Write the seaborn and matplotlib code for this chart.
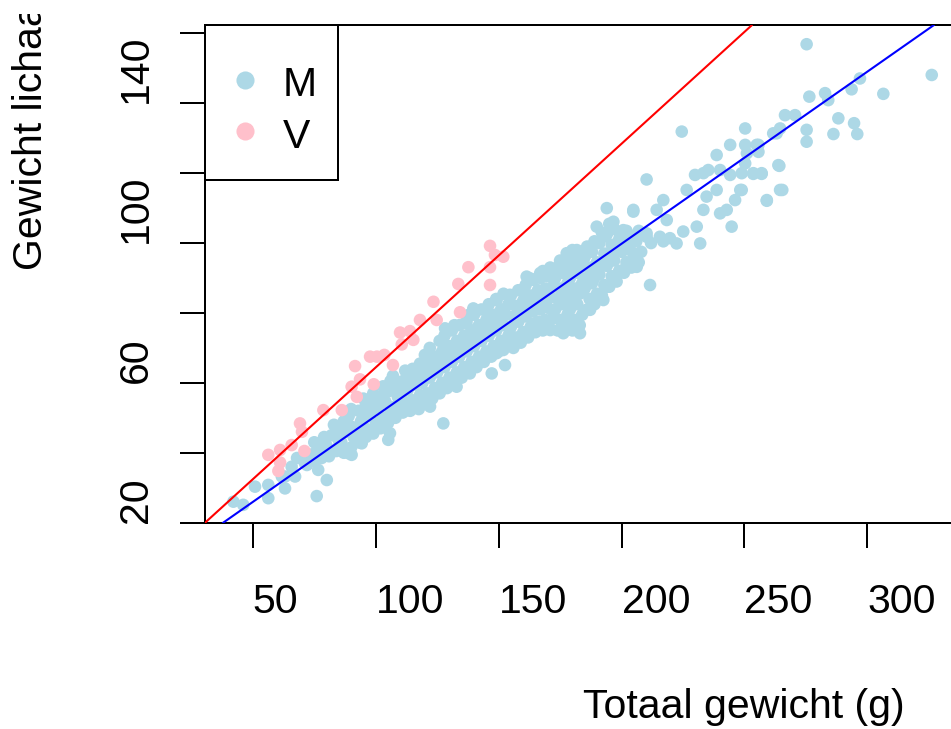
import matplotlib
matplotlib.use("Agg")
import matplotlib.pyplot as plt
from matplotlib.patches import Rectangle
from matplotlib.transforms import Bbox
import pandas as pd
import seaborn as sns

# ---------------- data ----------------
m_x = [
    72, 73, 75, 76, 75,
    78, 77, 79, 81, 80, 82,
    84, 85, 84, 83, 87, 86, 88, 87,
    90, 91, 90, 89, 90, 93, 92, 94, 93,
    96, 95, 97, 96, 95, 99, 100, 98, 99, 99,
    102, 103, 101, 102, 103, 105, 106, 104, 105, 106,
    108, 107, 109, 108, 107, 111, 112, 110, 111, 112,
    114, 115, 113, 114, 115, 117, 118, 116, 117, 118,
    120, 121, 119, 120, 121, 120, 123, 124, 122, 123, 124, 122,
    126, 127, 125, 126, 127, 126, 129, 130, 128, 129, 130, 128,
    132, 133, 131, 132, 133, 131, 132, 135, 136, 134, 135, 136, 134,
    138, 139, 137, 138, 139, 137, 138, 141, 142, 140, 141, 142, 140,
    144, 145, 143, 144, 145, 143, 147, 148, 146, 147, 148, 146,
    150, 151, 149, 150, 151, 149, 153, 154, 152, 153, 154, 152,
    156, 157, 155, 156, 157, 155, 159, 160, 158, 159, 160, 158,
    162, 163, 161, 162, 163, 161, 165, 166, 164, 165, 166, 164,
    168, 169, 167, 168, 169, 167, 168, 171, 172, 170, 171, 172, 170, 171,
    174, 175, 173, 174, 175, 173, 174, 175, 177, 178, 176, 177, 178, 176, 177,
    180, 181, 179, 180, 181, 179, 180, 181, 180, 183, 184, 182, 183, 184, 182, 183, 184,
    186, 187, 185, 186, 187, 185, 186, 189, 190, 188, 189, 190, 188, 189,
    192, 193, 191, 192, 193, 191, 192, 195, 196, 194, 195, 196, 194, 195,
    198, 199, 197, 198, 199, 197, 201, 202, 200, 201, 202, 204, 205, 203, 204, 207, 208, 206, 207,
    42.1, 46.1, 50.9, 56.3, 56.3, 63.1, 63.1, 67.2, 69.9, 76.0,
    80.1, 76.6, 65.8, 71.2, 61.8, 68.0, 90.2, 88.8, 105.1, 105.8,
    97.7, 94.3,
    127.5, 132.9, 138.3, 147.2, 152.6, 149.2, 154.6, 122.1, 112.6, 108.5,
    128.2, 139.7, 145.2, 149.2, 154.6, 160.0, 161.4, 143.6, 136.9, 117.5,
    162.8, 166.9, 171.0, 176.3, 177.7, 181.8, 187.2, 189.9, 194.0, 196.7,
    192.6, 200.7, 204.8, 206.2, 210.2, 206.2, 211.6, 192.6, 194.0, 187.2,
    183.1, 176.3, 171.0, 164.2, 151.9, 147.8, 203.5, 200.7, 188.5, 184.5,
    199.4, 210.2, 212.0, 217.0,
    224.5, 210.2, 204.8, 217.0, 214.3, 218.4, 215.6, 219.7, 222.4, 225.1,
    226.5, 229.9, 233.3, 235.3, 234.6, 233.3, 230.6, 238.7, 240.1, 238.7,
    240.1, 242.8, 244.2, 244.2, 248.3, 246.2, 244.8, 232.0, 250.3, 250.3,
    251.0, 253.6, 257.0, 255.0, 263.1, 263.8, 264.5, 259.1,
    275.3, 326.2, 306.5, 297.0, 293.6, 282.8, 284.1, 276.4, 266.5, 270.6,
    264.5, 261.7, 255.7, 255.7, 250.3, 248.9, 253.6, 257.0, 264.2, 265.4,
    259.1, 248.9, 275.3, 275.3, 288.2, 286.2, 294.6, 295.9,
]
m_y = [
    36.5, 39.5, 37.5, 40.5, 43,
    38.5, 41.5, 44.5, 39, 42, 45,
    40.5, 43.5, 46.5, 48, 40, 43, 46, 49,
    41.5, 44.5, 47.5, 50.5, 52.5, 43, 46, 49, 52,
    44.5, 47.5, 50.5, 53.5, 55.5, 45.5, 48.5, 51.5, 54.5, 57,
    47, 50, 53, 56, 59, 48.5, 51.5, 54.5, 57.5, 60.5,
    50, 53, 56, 59, 62, 51.5, 54.5, 57.5, 60.5, 63.5,
    52, 55, 58, 61, 64, 53.5, 56.5, 59.5, 62.5, 65.5,
    54, 57, 60, 63, 66, 68, 55.5, 58.5, 61.5, 64.5, 67.5, 70,
    57, 60, 63, 66, 69, 72, 58.5, 61.5, 64.5, 67.5, 70.5, 73.5,
    60, 63, 66, 69, 72, 75, 76.5, 61.5, 64.5, 67.5, 70.5, 73.5, 76.5,
    63, 66, 69, 72, 75, 78, 79.5, 64.5, 67.5, 70.5, 73.5, 76.5, 79.5,
    66, 69, 72, 75, 78, 81, 67.5, 70.5, 73.5, 76.5, 79.5, 82.5,
    69, 72, 75, 78, 81, 84, 70.5, 73.5, 76.5, 79.5, 82.5, 85.5,
    70, 73, 76, 79, 82, 85, 71.5, 74.5, 77.5, 80.5, 83.5, 86.5,
    73, 76, 79, 82, 85, 88, 74.5, 77.5, 80.5, 83.5, 86.5, 89.5,
    75, 78, 81, 84, 87, 90, 92, 75.5, 78.5, 81.5, 84.5, 87.5, 90.5, 93,
    75, 78, 81, 84, 87, 90, 93, 95, 76.5, 79.5, 82.5, 85.5, 88.5, 91.5, 94.5,
    75, 78, 81, 84, 87, 90, 93, 96, 98, 76.5, 79.5, 82.5, 85.5, 88.5, 91.5, 94.5, 97.5,
    81, 84, 87, 90, 93, 96, 99, 82.5, 85.5, 88.5, 91.5, 94.5, 97.5, 100.5,
    85, 88, 91, 94, 97, 100, 103, 87.5, 90.5, 93.5, 96.5, 99.5, 102.5, 105.5,
    89, 92, 95, 98, 101, 104, 91.5, 94.5, 97.5, 100.5, 103.5, 93, 96, 99, 102, 94.5, 97.5, 100.5, 103.5,
    26.0, 25.1, 30.3, 30.8, 27.0, 29.8, 33.2, 33.2, 38.4, 27.6,
    32.2, 35.1, 36.0, 37.0, 33.2, 38.5, 39.4, 39.9, 43.7, 45.6,
    46.5, 42.7,
    48.4, 58.9, 62.7, 62.7, 65.1, 68.5, 71.3, 53.2, 52.2, 53.2,
    75.6, 81.3, 80.9, 83.7, 85.2, 86.6, 90.4, 75.1, 77.0, 52.5,
    89.9, 91.4, 91.4, 94.7, 97.1, 98.0, 98.5, 104.7, 110.0, 106.1,
    101.8, 103.7, 109.0, 101.8, 102.8, 93.2, 88.0, 83.7, 87.5, 80.9,
    74.2, 74.2, 75.1, 77.0, 69.4, 68.5, 98.0, 92.3, 89.5, 93.3,
    101.8, 101.8, 100.0, 100.5,
    131.9, 118.2, 109.5, 112.3, 109.5, 106.6, 101.8, 101.4, 99.9, 103.3,
    115.2, 119.5, 120.0, 120.9, 113.3, 109.5, 104.7, 125.2, 120.9, 115.2,
    108.5, 109.5, 119.5, 128.1, 115.2, 112.3, 104.7, 99.9, 132.8, 128.1,
    125.7, 120.0, 120.0, 128.1, 131.4, 122.3, 115.2, 112.3,
    156.9, 148.1, 142.7, 147.1, 144.0, 142.9, 140.9, 141.9, 136.6, 136.6,
    132.8, 131.4, 128.1, 126.1, 122.8, 120.0, 119.8, 119.8, 122.1, 115.2,
    112.1, 115.2, 132.4, 129.0, 135.7, 131.2, 134.3, 131.2,
]

v_x = [56.3, 61.1, 61.1, 60.4, 65.8, 69.2, 70.0, 71.0, 78.7, 86.2,
       90.2, 92.3, 93.6, 99.2, 91.6, 97.7, 100.5, 103.5, 107.0, 109.9,
       113.9, 115.3, 110.6, 118.0, 123.5, 124.8, 134.3, 133.6, 137.7, 146.5,
       146.5, 148.5, 151.9, 146.5]
v_y = [39.4, 40.8, 37.2, 34.8, 42.2, 48.4, 46.0, 40.5, 52.2, 52.2,
       58.9, 56.0, 61.0, 59.6, 64.8, 67.5, 67.5, 68.0, 65.1, 74.4,
       74.8, 72.3, 71.0, 78.0, 83.2, 78.0, 80.2, 88.3, 93.1, 99.2,
       93.1, 96.6, 96.1, 88.0]

groups = ["M", "V"]
group_colors = ["#ADD8E6", "#FFC0CB"]

# fitted lines (intercept, slope) per group
line_intercepts = [1.3, 0.42]
line_slopes = [0.4925, 0.64]
line_colors = ["#0000FF", "#FF0000"]

x_ticks = [50, 100, 150, 200, 250, 300]
x_tick_labels = ["50", "100", "150", "200", "250", "300"]
y_ticks = [20, 40, 60, 80, 100, 120, 140, 160]
y_tick_labels = ["20", "", "60", "", "100", "", "140", ""]

x_label = "Totaal gewicht (g)"
y_label = "Gewicht lichaam (g)"

# ---------------- figure ----------------
sns.set_theme(style="white")
plt.rcParams["font.family"] = ["Liberation Sans", "DejaVu Sans"]
plt.rcParams["text.color"] = "black"
plt.rcParams["axes.labelcolor"] = "black"
FS = 29.5

fig = plt.figure(figsize=(9.51, 7.29), dpi=100)
W, H = 951, 729
ax = fig.add_axes([205 / W, 206 / H, 756 / W, 498 / H])

df = pd.DataFrame({
    "x": m_x + v_x,
    "y": m_y + v_y,
    "geslacht": [groups[0]] * len(m_x) + [groups[1]] * len(v_x),
})
sns.scatterplot(data=df, x="x", y="y", hue="geslacht",
                palette=dict(zip(groups, group_colors)),
                s=82, linewidth=0, alpha=1, legend=False, ax=ax, zorder=2)

for b, m, c in zip(line_intercepts, line_slopes, line_colors):
    ax.axline((0, b), slope=m, color=c, lw=1.5, zorder=3)

ax.set_xlim(30.55, 338.1)
ax.set_ylim(19.9, 162.4)
ax.set_xlabel("")
ax.set_ylabel("")

ax.set_xticks(x_ticks)
ax.set_xticklabels(x_tick_labels, ha="left", fontsize=FS, color="black")
ax.set_yticks(y_ticks)
ax.set_yticklabels(y_tick_labels, rotation=90, va="bottom", ha="right",
                   fontsize=FS, color="black")
ax.tick_params(axis="both", direction="out", length=18, width=1.44,
               color="black", labelcolor="black")
ax.tick_params(axis="x", pad=25)
ax.tick_params(axis="y", pad=18)
ax.xaxis.set_ticks_position("bottom")
ax.yaxis.set_ticks_position("left")
for sp in ax.spines.values():
    sp.set_visible(True)
    sp.set_color("black")
    sp.set_linewidth(1.44)

# legend box (R style, top-left corner)
ax.add_patch(Rectangle((0, (523 - 180) / 498), 133 / 756, 1 - (523 - 180) / 498,
                       transform=ax.transAxes, facecolor="white",
                       edgecolor="black", lw=1.44, zorder=5, clip_on=False))
leg_y_marker = [(523 - 80) / 498, (523 - 131) / 498]
leg_y_text = [(523 - 96) / 498, (523 - 148) / 498]
for g, c, ym, yt in zip(groups, group_colors, leg_y_marker, leg_y_text):
    ax.scatter([40 / 756], [ym], transform=ax.transAxes, s=170, color=c,
               linewidth=0, zorder=6, clip_on=False)
    ax.text(78 / 756, yt, g, transform=ax.transAxes, fontsize=FS,
            ha="left", va="baseline", color="black", zorder=6)

# axis titles (left-anchored as in the reference)
fig.text(583 / W, 11 / H, x_label, fontsize=FS, ha="left", va="baseline",
         color="black")
ylab = fig.text(12 / W, 1 - 270 / H, y_label, fontsize=FS, rotation=90,
                ha="left", va="bottom", color="black")
ylab.set_clip_box(Bbox.from_extents(0, 0, W, H - 14))
ylab.set_clip_on(True)

fig.savefig("out.png", dpi=100, facecolor="white")
